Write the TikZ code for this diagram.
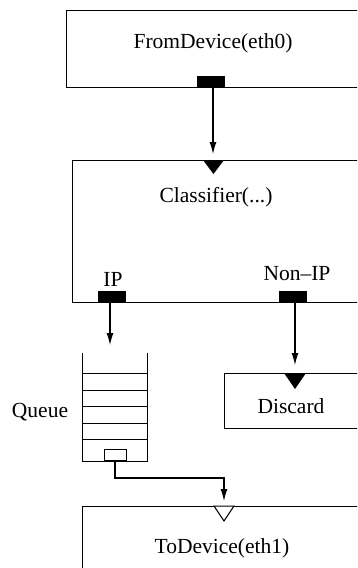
\documentclass[tikz,border=0pt]{standalone}
\usepackage{fontspec}
\setmainfont{Liberation Serif}
\usetikzlibrary{arrows.meta}
\begin{document}
\begin{tikzpicture}[x=1pt,y=-1pt,
  box/.style={draw, line width=1pt, rectangle, anchor=north west, inner sep=0pt},
  lbl/.style={font=\fontsize{21.5}{25}\selectfont, inner sep=0pt},
  outport/.style={fill=black, rectangle, inner sep=0pt, minimum width=28pt, minimum height=11pt, anchor=south},
  qport/.style={draw, fill=white, line width=1pt, rectangle, inner sep=0pt, minimum width=22pt, minimum height=11pt, anchor=south},
  conn/.style={line width=1.1pt, -{Latex[length=12pt,width=7pt]}},
  qline/.style={line width=1pt}]
\useasboundingbox (0,0) rectangle (357,568);
\clip (0,0) rectangle (357,568);

% boxes
\node[box, minimum width=360pt, minimum height=77pt] (fd) at (66,10) {};
\node[box, minimum width=360pt, minimum height=142pt] (cl) at (72,160) {};
\node[box, minimum width=200pt, minimum height=55pt] (dc) at (224,373) {};
\node[box, minimum width=300pt, minimum height=100pt] (td) at (82,506) {};

% texts
\node[lbl] (fdt) at (213,43) {FromDevice(eth0)};
\node[lbl] (clt) at (216,197) {Classifier(...)};
\node[lbl] (ipt) at (113,279) {IP};
\node[lbl] (nipt) at (297,274) {Non\textendash IP};
\node[lbl] (qt) at (40,412) {Queue};
\node[lbl] (dct) at (291,406) {Discard};
\node[lbl] (tdt) at (222,548) {ToDevice(eth1)};

% output ports
\node[outport] (fdout) at (211,87) {};
\node[outport] (ipout) at (112,302) {};
\node[outport] (nipout) at (293,302) {};

% input ports
\fill (203,160) -- (224,160) -- (213.5,174) -- cycle;
\coordinate (clin) at (213,154);
\fill (284,373) -- (306,373) -- (295,389) -- cycle;
\coordinate (dcin) at (295,365);
\draw[line width=1pt, fill=white] (214,506) -- (234,506) -- (224,521) -- cycle;
\coordinate (tdin) at (224,501);

% queue
\draw[qline] (82,353) -- (82,461) -- (147,461) -- (147,353);
\foreach \yy in {373,390,406,423,439} \draw[qline] (82,\yy) -- (147,\yy);
\node[qport] (qout) at (115,461) {};
\coordinate (qin) at (110,345);

% connectors
\draw[conn] (fdout.south -| clin) -- (clin);
\draw[conn] (ipout.south -| qin) -- (qin);
\draw[conn] (nipout.south -| dcin) -- (dcin);
\draw[conn] (qout.south) -- ++(0,17) -| (tdin);
\end{tikzpicture}
\end{document}
